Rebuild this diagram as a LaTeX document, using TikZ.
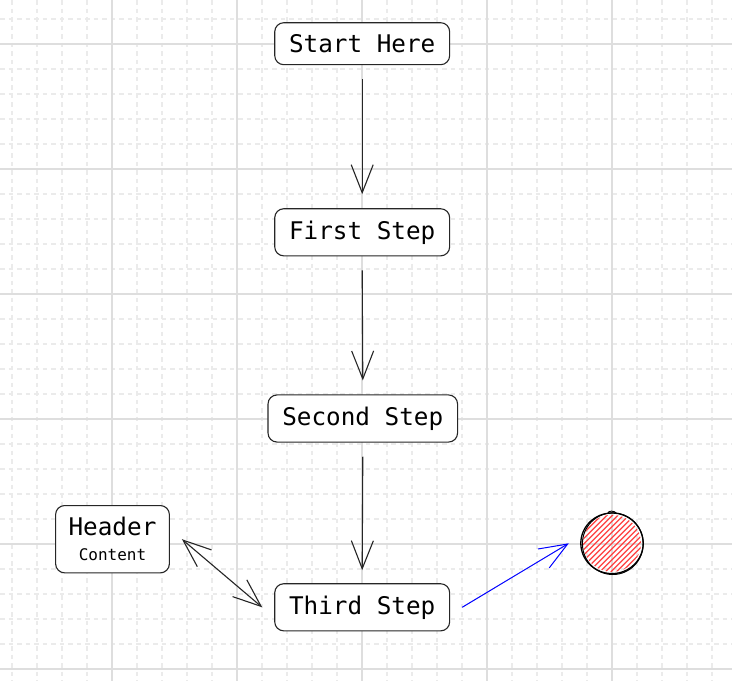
\documentclass[tikz,border=0pt]{standalone}
\usepackage{fontspec}
\setmonofont{DejaVu Sans Mono}
\usetikzlibrary{arrows.meta,calc}
\definecolor{gridmajor}{HTML}{DEDEDE}
\definecolor{gridminor}{HTML}{EBEBEB}
\definecolor{hatchred}{HTML}{FF4040}
\tikzset{
  stepbox/.style={draw=black!85, line width=1.1pt, rounded corners=9pt,
    inner xsep=14.3pt, inner ysep=11.8pt, fill=white,
    font=\ttfamily\fontsize{24.3}{25}\selectfont},
  conn/.style={line width=1.1pt, draw=black!85,
    -{Straight Barb[length=28pt,width=22pt]}},
  minorgrid/.style={gridminor, line width=1.2pt, dash pattern=on 4.5pt off 4pt},
  majorgrid/.style={gridmajor, line width=1.6pt},
  hatch/.style={hatchred, line width=1.2pt},
  sketch/.style={black, line width=1.3pt},
}
\begin{document}
\begin{tikzpicture}[x=1pt,y=-1pt]
\useasboundingbox (0,0) rectangle (732,681);
\fill[white] (0,0) rectangle (732,681);
% grid
\foreach \x in {12,37,...,712} \draw[minorgrid] (\x,0) -- (\x,681);
\foreach \y in {19,44,...,669} \draw[minorgrid] (0,\y) -- (732,\y);
\foreach \x in {112,237,362,487,612} \draw[majorgrid] (\x,0) -- (\x,681);
\foreach \y in {44,169,294,419,544,669} \draw[majorgrid] (0,\y) -- (732,\y);
% nodes
\node[stepbox] (start)  at (362.2,43.7)  {Start Here};
\node[stepbox] (first)  at (362.2,232.3) {First Step};
\node[stepbox] (second) at (362.8,418.5) {Second Step};
\node[stepbox] (third)  at (362.2,607.3) {Third Step};
\node[stepbox, inner xsep=13pt, align=center] (hdr) at (112.5,539.2)
  {Header\\{\fontsize{16}{16}\selectfont Content}};
\node[circle, minimum size=62pt, inner sep=0pt] (circ) at (612,543.3) {};
% sketchy circle
\begin{scope}[shift={(circ.center)}]
  \begin{scope}
    \clip (0,0) ellipse [x radius=29, y radius=28.5];
    \foreach \d in {-66,-60.5,...,66}
      \draw[hatch] (\d-40,40) -- (\d+40,-40);
  \end{scope}
  \draw[sketch] (0,0) ellipse [x radius=31.2, y radius=30.3];
  \draw[sketch, line width=1pt] (0.8,0.4) ellipse [x radius=30.4, y radius=30.8];
  \draw[sketch, line width=0.9pt] (-4,-30.3) .. controls (-3.5,-33) and (2,-32.5) .. (4,-30.6);
\end{scope}
% connectors
\draw[conn] ([yshift=-14pt]start.south) -- ([yshift=14pt]first.north);
\draw[conn] ([yshift=-14pt]first.south) -- ([yshift=14pt]second.north);
\draw[conn] ([yshift=-14pt]second.south) -- ([yshift=13pt]third.north);
\draw[conn, {Straight Barb[length=28pt,width=22pt]}-{Straight Barb[length=28pt,width=22pt]}]
  ([xshift=12pt]hdr.east) -- ([xshift=-12pt]third.west);
\draw[conn, draw=blue, line width=1pt] ([xshift=12pt]third.east) -- ([xshift=-12pt]circ.west);
\end{tikzpicture}
\end{document}
